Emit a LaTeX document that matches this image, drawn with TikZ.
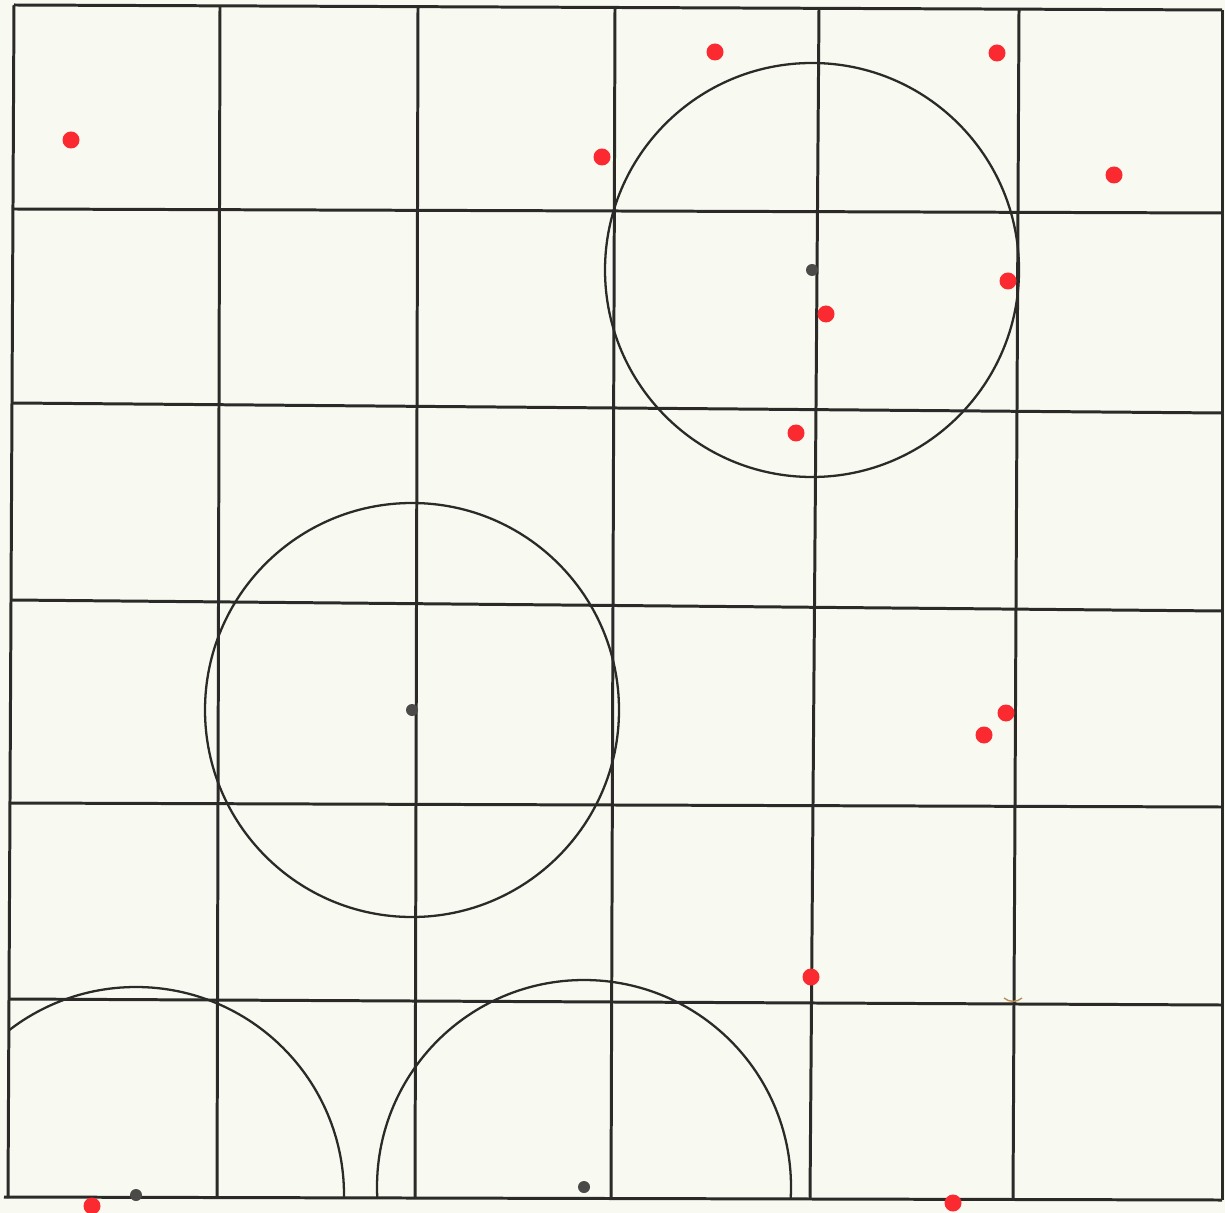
\documentclass[tikz,border=0pt]{standalone}
\usepackage{xcolor}
\usepackage{tikz}
\usetikzlibrary{calc}
\definecolor{paper}{HTML}{F8F9F0}
\definecolor{inkc}{HTML}{2B2A28}
\definecolor{dotred}{HTML}{FA2A30}
\definecolor{tanc}{HTML}{B8905A}
\tikzset{
  gridline/.style={inkc,line width=0.85pt},
  ring/.style={inkc,line width=0.65pt},
  reddot/.style={fill=dotred},
  pivot/.style={fill=inkc!85}
}

\begin{document}
\begin{tikzpicture}[x=0.01cm,y=-0.01cm]
\fill[paper] (0,0) rectangle (1225,1213);
\useasboundingbox (0,0) rectangle (1225,1213);
\foreach \xt/\yt/\xb/\yb in {14/5/8/1198, 220/7/217/1198, 418/7/415/1198, 615/7/611/1198,
                             819/8/810/1198, 1019/9/1013/1199, 1222/10/1222/1200}
  \draw[gridline] (\xt,\yt) -- (\xb,\yb);
\foreach \yl/\xl/\yr in {5/14/10, 209/14/213, 403/12/413, 600/11/611,
                         803/10/807, 999/9/1005, 1197/4/1200}
  \draw[gridline] (\xl,\yl) -- (1222,\yr);
\coordinate (cTop) at (812,270);
\coordinate (cMid) at (412,710);
\coordinate (cLow) at (136,1195);
\coordinate (cBot) at (584,1187);
\draw[ring] (cTop) circle[radius=207];
\draw[ring] (cMid) circle[radius=207];
\begin{scope}
\clip (10,0) rectangle (1225,1198);
\draw[ring] (cLow) circle[radius=208];
\draw[ring] (cBot) circle[radius=207];
\end{scope}
\foreach \p in {cTop,cMid,cLow,cBot}
  \fill[pivot] (\p) circle[radius=6];
\foreach \px/\py in {71/140, 602/157, 715/52, 997/53, 1114/175, 1008/281, 826/314,
                     796/433, 1006/713, 984/735, 811/977, 953/1203, 92/1206}
  \fill[reddot] (\px,\py) circle[radius=8.5];
\draw[tanc,line width=0.4pt] (1004,998) to[bend right=40] (1022,998);
\end{tikzpicture}
\end{document}
